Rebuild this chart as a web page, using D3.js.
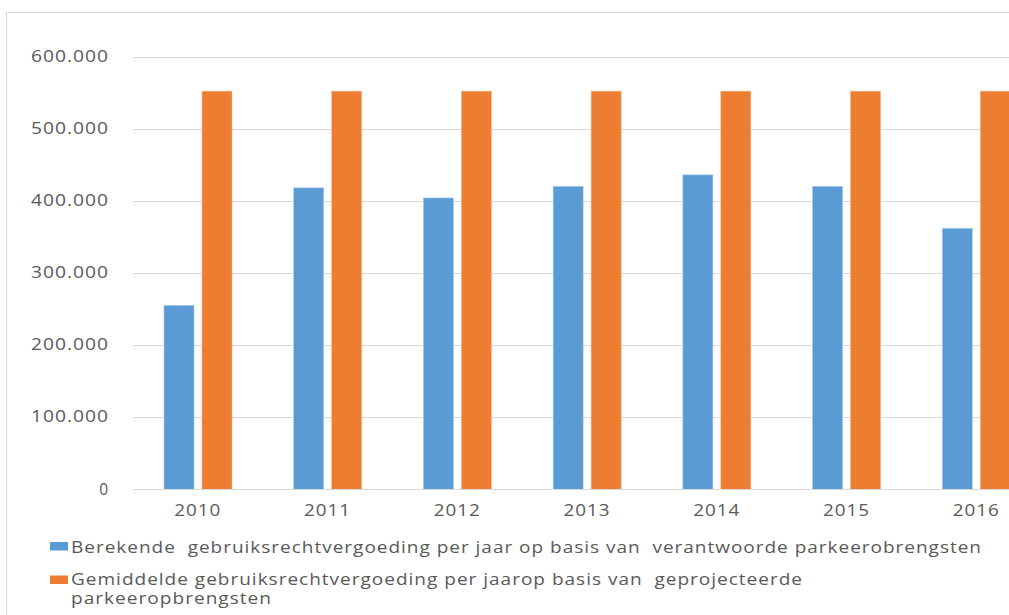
<!DOCTYPE html>
<html><head><meta charset="utf-8">
<script src="https://cdn.jsdelivr.net/npm/d3@7/dist/d3.min.js"></script>
<style>html,body{margin:0;padding:0;background:#fff;overflow:hidden}</style>
</head><body>
<svg id="c" width="1009" height="615"></svg>
<script>
const years = ["2010","2011","2012","2013","2014","2015","2016"];
const berekend = [255000, 418000, 404000, 420000, 436000, 420000, 362000];
const gemiddeld = [552000, 552000, 552000, 552000, 552000, 552000, 552000];
const yTicks = [0, 100000, 200000, 300000, 400000, 500000, 600000];
const seriesNames = [
  "Berekende  gebruiksrechtvergoeding per jaar op basis van  verantwoorde parkeerobrengsten",
  "Gemiddelde gebruiksrechtvergoeding per jaarop basis van  geprojecteerde",
  "parkeeropbrengsten"
];
const colors = ["#5B9BD5", "#ED7D31"];

const svg = d3.select("#c");
const font = "'Open Sans', 'DejaVu Sans', sans-serif";
const txt = "#595959";

// outer border
svg.append("rect").attr("x",6.5).attr("y",12.5).attr("width",1100).attr("height",700)
  .attr("fill","none").attr("stroke","#d9d9d9").attr("stroke-width",1);

const x0 = d3.scaleBand().domain(years).range([133, 1041]).paddingInner(0).paddingOuter(0);
const x1 = d3.scaleBand().domain([0,1]).range([31, 99]).paddingInner(0.21).paddingOuter(0);
const y = d3.scaleLinear().domain([0, 600000]).range([489.5, 56.5]);

const loc = d3.formatLocale({decimal:",", thousands:".", grouping:[3], currency:["",""]});
const fmt = loc.format(",");

// gridlines
svg.append("g").selectAll("line").data(yTicks.filter(d=>d>0)).join("line")
  .attr("x1",133).attr("x2",1041).attr("y1",d=>Math.round(y(d))+0.5).attr("y2",d=>Math.round(y(d))+0.5)
  .attr("stroke","#d9d9d9").attr("stroke-width",1);

// y labels
svg.append("g").selectAll("text").data(yTicks).join("text")
  .attr("x",109).attr("y",d=>y(d)+5).attr("text-anchor","end")
  .attr("font-family",font).attr("font-size",15.5).attr("fill",txt).attr("letter-spacing",0.8)
  .each(function(d){ const s=fmt(d); d3.select(this).text(s); if(s.length>1) d3.select(this).attr("textLength", 78).attr("lengthAdjust","spacingAndGlyphs"); });

// bars
const g = svg.append("g");
years.forEach((yr,i)=>{
  [berekend[i], gemiddeld[i]].forEach((v,s)=>{
    g.append("rect")
      .attr("x", x0(yr)+x1(s)).attr("width", x1.bandwidth())
      .attr("y", y(v)).attr("height", y(0)-y(v))
      .attr("fill", colors[s]).attr("stroke", s===0?"#a9c8ec":"#f6b48a").attr("stroke-width",0.6);
  });
});

// baseline
svg.append("line").attr("x1",133).attr("x2",1041).attr("y1",489.5).attr("y2",489.5)
  .attr("stroke","#d9d9d9").attr("stroke-width",1.2);

// x labels
svg.append("g").selectAll("text").data(years).join("text")
  .attr("x",d=>x0(d)+x0.bandwidth()/2).attr("y",515.5).attr("text-anchor","middle")
  .attr("font-family",font).attr("font-size",15.5).attr("fill",txt).attr("letter-spacing",0.8)
  .attr("textLength",47).attr("lengthAdjust","spacingAndGlyphs")
  .text(d=>d);

// legend
const leg = svg.append("g");
leg.append("rect").attr("x",50).attr("y",542).attr("width",18).attr("height",8.5).attr("fill",colors[0]);
leg.append("rect").attr("x",50).attr("y",575.5).attr("width",18).attr("height",8.5).attr("fill",colors[1]);
const lt = [[seriesNames[0], 552.5, 911],[seriesNames[1], 584.5, 732],[seriesNames[2], 603.5, 201]];
lt.forEach(([t,yy,w])=>{
  leg.append("text").attr("x",71).attr("y",yy).attr("font-family",font).attr("font-size",15.5)
    .attr("fill",txt).attr("letter-spacing",0.8).attr("textLength",w).attr("lengthAdjust","spacingAndGlyphs")
    .attr("xml:space","preserve").style("white-space","pre").text(t);
});
</script>
</body></html>
